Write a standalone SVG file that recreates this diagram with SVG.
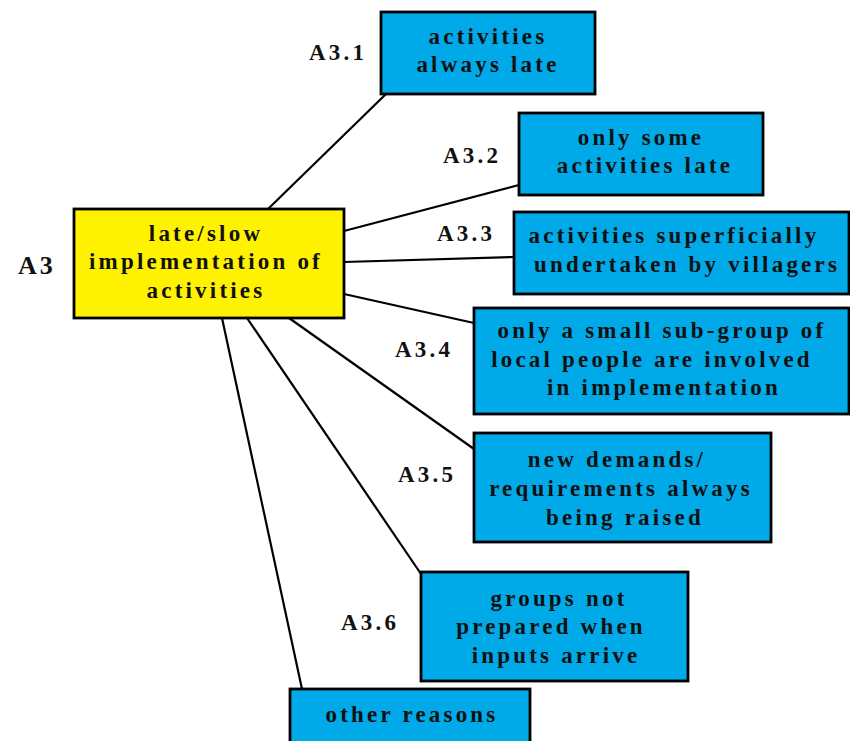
<svg xmlns="http://www.w3.org/2000/svg" width="850" height="741" viewBox="0 0 850 741">
  <style>
    .box { stroke: #000; stroke-width: 2.8; }
    .cause { fill: #00AAE8; }
    .core { fill: #FFF200; }
    text { font-family: "Liberation Serif", "Times New Roman", serif; font-weight: bold; font-size: 23px; letter-spacing: 3.2px; fill: #111; }
    .t { text-anchor: middle; }
    .conn line { stroke: #000; stroke-width: 2.2; }
  </style>
  <rect width="850" height="741" fill="#fff"/>

  <!-- connectors from the central problem to each cause -->
  <g id="connectors" class="conn">
    <line x1="268" y1="209" x2="386" y2="94"/>
    <line x1="344" y1="231" x2="519" y2="185"/>
    <line x1="344" y1="262" x2="514" y2="257"/>
    <line x1="344" y1="294" x2="474" y2="323"/>
    <line x1="289" y1="318" x2="474" y2="449"/>
    <line x1="247" y1="318" x2="421" y2="574"/>
    <line x1="222" y1="318" x2="302" y2="689"/>
  </g>

  <g id="A3">
    <text x="18" y="274" style="font-size:26px;letter-spacing:3px">A3</text>
    <rect class="box core" x="74" y="209" width="270" height="109"/>
    <text class="t" x="206" y="241">late/slow</text>
    <text class="t" x="206" y="269">implementation of</text>
    <text class="t" x="206" y="298">activities</text>
  </g>

  <g id="A3.1">
    <text x="309" y="60">A3.1</text>
    <rect class="box cause" x="381" y="12" width="214" height="82"/>
    <text class="t" x="488" y="44">activities</text>
    <text class="t" x="488" y="72">always late</text>
  </g>

  <g id="A3.2">
    <text x="443" y="163">A3.2</text>
    <rect class="box cause" x="519" y="113" width="244" height="82"/>
    <text class="t" x="641" y="145">only some</text>
    <text class="t" x="645" y="173">activities late</text>
  </g>

  <g id="A3.3">
    <text x="437" y="241">A3.3</text>
    <rect class="box cause" x="514" y="212" width="335" height="82"/>
    <text class="t" x="674" y="243">activities superficially</text>
    <text class="t" x="687" y="272">undertaken by villagers</text>
  </g>

  <g id="A3.4">
    <text x="395" y="357">A3.4</text>
    <rect class="box cause" x="474" y="308" width="375" height="106"/>
    <text class="t" x="662" y="338">only a small sub-group of</text>
    <text class="t" x="652" y="367">local people are involved</text>
    <text class="t" x="664" y="395">in implementation</text>
  </g>

  <g id="A3.5">
    <text x="398" y="482">A3.5</text>
    <rect class="box cause" x="474" y="433" width="297" height="109"/>
    <text class="t" x="617" y="467">new demands/</text>
    <text class="t" x="621" y="496">requirements always</text>
    <text class="t" x="625" y="525">being raised</text>
  </g>

  <g id="A3.6">
    <text x="341" y="630">A3.6</text>
    <rect class="box cause" x="421" y="572" width="267" height="109"/>
    <text class="t" x="559" y="606">groups not</text>
    <text class="t" x="551" y="634">prepared when</text>
    <text class="t" x="556" y="663">inputs arrive</text>
  </g>

  <g id="other">
    <rect class="box cause" x="290" y="689" width="240" height="60"/>
    <text class="t" x="412" y="722">other reasons</text>
  </g>
</svg>
